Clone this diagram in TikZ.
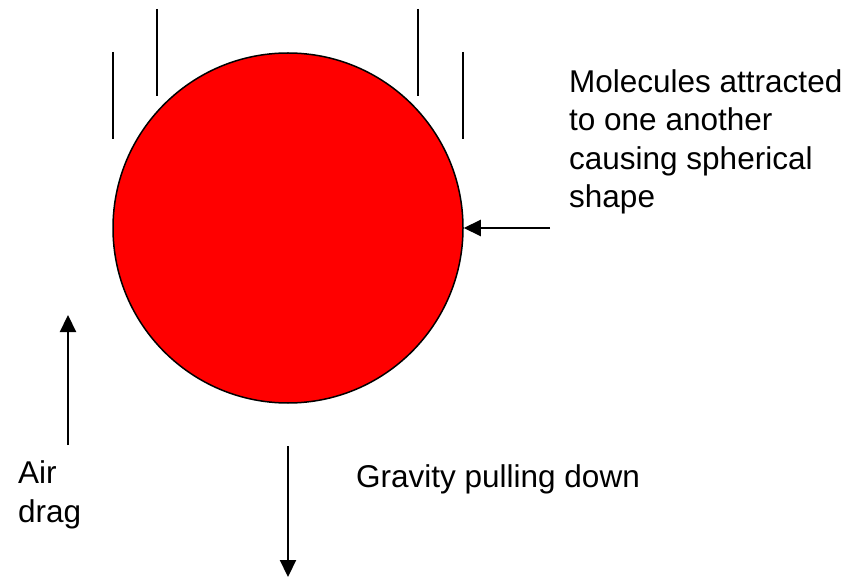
\documentclass[tikz,border=0pt]{standalone}
\usepackage{fontspec}
\setmainfont{Liberation Sans}
\usetikzlibrary{arrows.meta,positioning}
\definecolor{cDROP}{HTML}{FF0000}

\begin{document}
\begin{tikzpicture}[x=1pt, y=-1pt, >={Triangle[length=17pt,width=16pt]},
  force/.style={->, line width=2.2pt},
  trail/.style={line width=2pt},
  lbl/.style={anchor=base west, align=left, inner sep=0pt,
    font=\fontsize{31.5}{38.5}\selectfont}]
\useasboundingbox (0,0) rectangle (864,577);
% the falling drop
\node[circle, draw, line width=1.5pt, fill=cDROP, minimum size=350pt, inner sep=0pt] (drop) at (288,228) {};
% motion lines above it
\foreach \x/\a/\b in {113/52/139, 157/9/96, 418/9/96, 463/52/139} {
  \draw[trail] (\x,\a) -- (\x,\b);
}
% forces
\coordinate (attrTail) at (550,228);
\draw[force] (attrTail) -- (drop.east);
\coordinate (dragTail) at (68,445);
\coordinate (dragTip) at (68,315);
\draw[force] (dragTail) -- (dragTip);
\coordinate (gravTail) at (288,446);
\coordinate (gravTip) at (288,577);
\draw[force] (gravTail) -- (gravTip);
% labels (placed by the baseline of their last line)
\node[lbl] (attrLbl) at (569,208) {Molecules attracted\\to one another\\causing spherical\\shape};
\node[lbl] (dragLbl) at (18,522) {Air\\drag};
\node[lbl] (gravLbl) at (356,487) {Gravity pulling down};
\end{tikzpicture}
\end{document}
